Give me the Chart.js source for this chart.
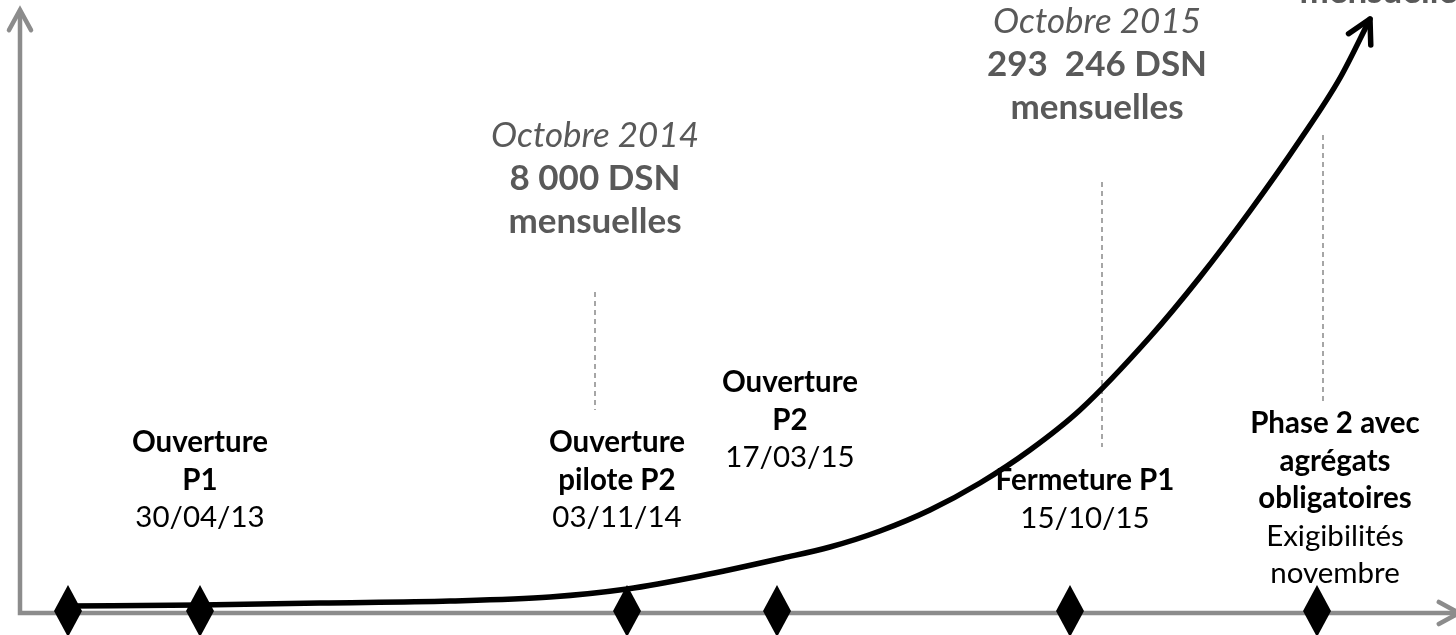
<!DOCTYPE html>
<html>
<head>
<meta charset="utf-8">
<script src="https://cdn.jsdelivr.net/npm/chart.js@4"></script>
<style>
  html, body { margin: 0; padding: 0; background: #fff; }
  #wrap { width: 1456px; height: 635px; }
</style>
</head>
<body>
<div id="wrap"><canvas id="dsnChart" width="1456" height="635"></canvas></div>
<script>
// timeline position (0 = vertical axis) / height above the time axis
const curveX = [48, 180, 300, 430, 530, 607, 680, 763, 810, 860, 910, 960, 1010, 1060, 1130, 1180, 1230, 1280, 1320, 1350];
const curveY = [7, 8, 10, 12, 16, 24, 37, 55, 66, 82, 103, 130, 163, 203, 276, 336, 402, 473, 535, 594];

const milestoneX = [48, 180, 607, 757, 1050, 1297];
const milestoneY = [2, 2, 2, 2, 2, 2];

const guideX = [575, 1082, 1303];
const guideTop = [321, 431, 478];
const guideBottom = [203, 166, 211];

const eventTitles = [['Ouverture', 'P1'], ['Ouverture', 'pilote P2'], ['Ouverture', 'P2'], ['Fermeture P1'], ['Phase 2 avec', 'agrégats', 'obligatoires']];
const eventDates = [['30/04/13'], ['03/11/14'], ['17/03/15'], ['15/10/15'], ['Exigibilités', 'novembre']];
const eventPos = [[180, 161], [597, 161], [770, 221], [1065, 123], [1315, 180]];

const volumeMonths = ['Octobre 2014', 'Octobre 2015', null];
const volumeCounts = ['8 000 DSN', '293  246 DSN', null];
const volumeUnits = ['mensuelles', 'mensuelles', 'mensuelles'];
const volumePos = [[575, 466], [1077, 580], [1366, 696]];

const AXIS_GREY = '#8c8c8c';
const NOTE_GREY = '#595959';

function diamond() {
  const c = document.createElement('canvas');
  c.width = 28; c.height = 52;
  const g = c.getContext('2d');
  g.fillStyle = '#000';
  g.beginPath();
  g.moveTo(14, 0); g.lineTo(28, 26); g.lineTo(14, 52); g.lineTo(0, 26);
  g.closePath();
  g.fill();
  return c;
}

function chevron(ctx, x, y, ang, len, spread) {
  ctx.beginPath();
  ctx.moveTo(x + Math.cos(ang + Math.PI - spread) * len, y + Math.sin(ang + Math.PI - spread) * len);
  ctx.lineTo(x, y);
  ctx.lineTo(x + Math.cos(ang + Math.PI + spread) * len, y + Math.sin(ang + Math.PI + spread) * len);
  ctx.stroke();
}

const axesPlugin = {
  id: 'axes',
  beforeDatasetsDraw(chart) {
    const { ctx, chartArea: a } = chart;
    ctx.save();
    ctx.strokeStyle = AXIS_GREY;
    ctx.lineWidth = 4.5;
    ctx.lineJoin = 'miter';
    ctx.beginPath();
    ctx.moveTo(a.left, a.top + 1);
    ctx.lineTo(a.left, a.bottom);
    ctx.lineTo(a.right + 2, a.bottom);
    ctx.stroke();
    ctx.lineCap = 'round';
    chevron(ctx, a.left, a.top, -Math.PI / 2, 23, 0.5);
    chevron(ctx, a.right + 3, a.bottom, 0, 23, 0.5);
    ctx.restore();
  }
};

const notesPlugin = {
  id: 'notes',
  afterDatasetsDraw(chart) {
    const { ctx, scales: { x, y } } = chart;
    ctx.save();
    ctx.textAlign = 'center';
    ctx.textBaseline = 'alphabetic';

    // arrow head on the growth curve
    const meta = chart.getDatasetMeta(1);
    const last = meta.data[meta.data.length - 1];
    const px = last.cp1x !== undefined ? last.cp1x : meta.data[meta.data.length - 2].x;
    const py = last.cp1y !== undefined ? last.cp1y : meta.data[meta.data.length - 2].y;
    ctx.strokeStyle = '#000';
    ctx.lineWidth = 5.5;
    ctx.lineCap = 'round';
    ctx.lineJoin = 'round';
    chevron(ctx, last.x, last.y, Math.atan2(last.y - py, last.x - px), 26, 0.5);

    // milestone labels
    const lh = 37.5;
    eventTitles.forEach((title, i) => {
      const cx = x.getPixelForValue(eventPos[i][0]);
      let by = y.getPixelForValue(eventPos[i][1]);
      ctx.fillStyle = '#000';
      ctx.font = 'bold 29.5px Lato';
      title.forEach(t => { ctx.fillText(t, cx, by); by += lh; });
      ctx.font = '29.5px Lato';
      eventDates[i].forEach(t => { ctx.fillText(t, cx, by); by += lh; });
    });

    // volume notes
    const nh = 43;
    volumeUnits.forEach((unit, i) => {
      const cx = x.getPixelForValue(volumePos[i][0]);
      let by = y.getPixelForValue(volumePos[i][1]);
      ctx.fillStyle = NOTE_GREY;
      if (volumeMonths[i]) { ctx.font = 'italic 35px Lato'; ctx.fillText(volumeMonths[i], cx, by); }
      by += nh;
      if (volumeCounts[i]) { ctx.font = 'bold 35px Lato'; ctx.fillText(volumeCounts[i], cx, by); }
      by += nh;
      ctx.font = 'bold 35px Lato';
      ctx.fillText(unit, cx, by);
    });
    ctx.restore();
  }
};

const datasets = [
  {
    label: 'jalons',
    data: milestoneX.map((v, i) => ({ x: v, y: milestoneY[i] })),
    pointStyle: diamond(),
    pointRadius: 14,
    showLine: false,
    clip: false
  },
  {
    label: 'DSN mensuelles',
    data: curveX.map((v, i) => ({ x: v, y: curveY[i] })),
    showLine: true,
    borderColor: '#000',
    borderWidth: 5.5,
    cubicInterpolationMode: 'monotone',
    pointRadius: 0,
    borderCapStyle: 'round',
    clip: false
  }
];
guideX.forEach((gx, i) => {
  datasets.push({
    label: 'repère ' + (i + 1),
    data: [{ x: gx, y: guideTop[i] }, { x: gx, y: guideBottom[i] }],
    showLine: true,
    borderColor: '#a6a6a6',
    borderWidth: 2,
    borderDash: [5, 4],
    pointRadius: 0,
    clip: false
  });
});

const config = {
  type: 'scatter',
  data: { datasets: datasets },
  options: {
    responsive: false,
    animation: false,
    layout: { autoPadding: false, padding: { left: 20, right: 0, top: 10, bottom: 22 } },
    plugins: {
      legend: false,
      tooltip: { enabled: false }
    },
    scales: {
      x: { type: 'linear', min: 0, max: 1436, display: false },
      y: { type: 'linear', min: 0, max: 603, display: false }
    }
  },
  plugins: [axesPlugin, notesPlugin]
};

const dsnCanvas = document.getElementById('dsnChart').getContext('2d');
const dsnChart = new Chart(dsnCanvas, config);
</script>
</body>
</html>
